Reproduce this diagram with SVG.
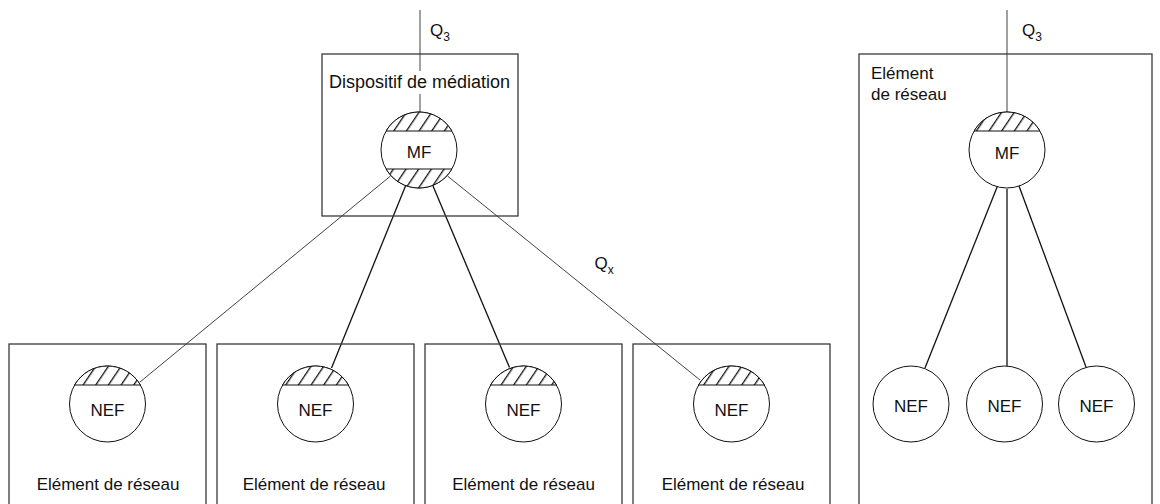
<svg xmlns="http://www.w3.org/2000/svg" width="1160" height="504" viewBox="0 0 1160 504">
  <style>
    .box { fill: none; stroke: #3a3a3a; stroke-width: 1.3; }
    .circ { fill: #fff; stroke: #111; stroke-width: 1; }
    .cap { fill: url(#hatch); stroke: #111; stroke-width: 1; }
    .lbl { font-family: "Liberation Sans", Arial, sans-serif; font-size: 17px; fill: #111; }
    .mid { text-anchor: middle; }
    .big { font-size: 18px; }
    .sub { font-size: 12px; }
    .thin { stroke: #111; stroke-width: 0.8; fill: none; }
    .thick { stroke: #111; stroke-width: 1.3; fill: none; }
  </style>
  <defs>
    <pattern id="hatch" patternUnits="userSpaceOnUse" width="10.5" height="10" patternTransform="rotate(34)">
      <rect width="10.5" height="10" fill="#fff"/>
      <line x1="0.7" y1="0" x2="0.7" y2="10" stroke="#000" stroke-width="1.2"/>
    </pattern>
  </defs>

  <rect width="1160" height="504" fill="#fff"/>

  <!-- connectors -->
  <g id="connectors">
    <line class="thin" x1="420" y1="10" x2="420" y2="71"/>
    <line class="thin" x1="420" y1="94" x2="420" y2="112"/>
    <line class="thin" x1="390.5" y1="176" x2="140" y2="382"/>
    <line class="thick" x1="405.5" y1="186" x2="331.5" y2="368"/>
    <line class="thick" x1="433" y1="186" x2="509.5" y2="367.5"/>
    <line class="thin" x1="447.5" y1="176" x2="700" y2="380"/>
    <line class="thin" x1="1007" y1="10" x2="1007" y2="112"/>
    <line class="thick" x1="997.5" y1="186" x2="925" y2="368"/>
    <line class="thick" x1="1007" y1="189" x2="1007" y2="366"/>
    <line class="thick" x1="1019" y1="186" x2="1086" y2="367"/>
  </g>

  <g id="q3-left">
    <text class="lbl" x="430" y="36">Q<tspan class="sub" dy="5">3</tspan></text>
  </g>
  <g id="qx">
    <text class="lbl" x="594.5" y="269">Q<tspan class="sub" dy="5">x</tspan></text>
  </g>
  <g id="q3-right">
    <text class="lbl" x="1022" y="36">Q<tspan class="sub" dy="5">3</tspan></text>
  </g>

  <!-- mediation device -->
  <g id="mediation">
    <rect class="box" x="322" y="54" width="196" height="162"/>
    <text class="lbl mid big" x="419.5" y="88">Dispositif de médiation</text>
    <circle class="circ" cx="419" cy="150" r="38"/>
    <path class="cap" d="M386.1,131 A38,38 0 0 1 451.9,131 Z"/>
    <path class="cap" d="M386.1,169 A38,38 0 0 0 451.9,169 Z"/>
    <text class="lbl mid" x="419" y="157.5">MF</text>
  </g>

  <!-- network elements, bottom row -->
  <g id="ne1">
    <rect class="box" x="9" y="344" width="197" height="170"/>
    <circle class="circ" cx="107.5" cy="404" r="38"/>
    <path class="cap" d="M74.6,385 A38,38 0 0 1 140.4,385 Z"/>
    <text class="lbl mid" x="107.5" y="416">NEF</text>
    <text class="lbl mid" x="108" y="490">Elément de réseau</text>
  </g>
  <g id="ne2">
    <rect class="box" x="217" y="344" width="197" height="170"/>
    <circle class="circ" cx="315.5" cy="404" r="38"/>
    <path class="cap" d="M282.6,385 A38,38 0 0 1 348.4,385 Z"/>
    <text class="lbl mid" x="315.5" y="416">NEF</text>
    <text class="lbl mid" x="314" y="490">Elément de réseau</text>
  </g>
  <g id="ne3">
    <rect class="box" x="425" y="344" width="197" height="170"/>
    <circle class="circ" cx="523.5" cy="404" r="38"/>
    <path class="cap" d="M490.6,385 A38,38 0 0 1 556.4,385 Z"/>
    <text class="lbl mid" x="523.5" y="416">NEF</text>
    <text class="lbl mid" x="523.5" y="490">Elément de réseau</text>
  </g>
  <g id="ne4">
    <rect class="box" x="633" y="344" width="197" height="170"/>
    <circle class="circ" cx="731.5" cy="404" r="38"/>
    <path class="cap" d="M698.6,385 A38,38 0 0 1 764.4,385 Z"/>
    <text class="lbl mid" x="731.5" y="416">NEF</text>
    <text class="lbl mid" x="733" y="490">Elément de réseau</text>
  </g>

  <!-- network element with integrated mediation -->
  <g id="ne-mf">
    <rect class="box" x="859" y="54" width="293" height="460"/>
    <text class="lbl" x="871" y="79">Elément</text>
    <text class="lbl" x="871" y="100">de réseau</text>
    <circle class="circ" cx="1007" cy="150" r="38"/>
    <path class="cap" d="M974.1,131 A38,38 0 0 1 1039.9,131 Z"/>
    <text class="lbl mid" x="1007" y="158.5">MF</text>
  </g>
  <g id="nef-r1">
    <circle class="circ" cx="911" cy="404" r="38"/>
    <text class="lbl mid" x="911" y="411.5">NEF</text>
  </g>
  <g id="nef-r2">
    <circle class="circ" cx="1004.5" cy="404" r="38"/>
    <text class="lbl mid" x="1004.5" y="411.5">NEF</text>
  </g>
  <g id="nef-r3">
    <circle class="circ" cx="1096.5" cy="404" r="38"/>
    <text class="lbl mid" x="1096.5" y="411.5">NEF</text>
  </g>
</svg>
